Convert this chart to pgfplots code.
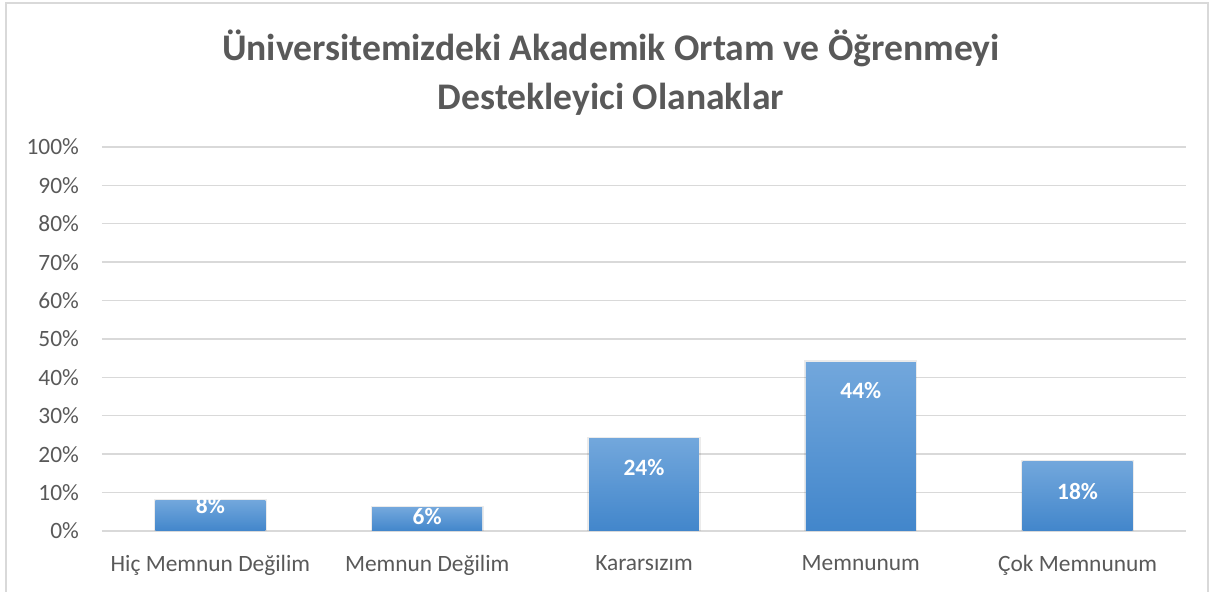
\documentclass[border=0pt]{standalone}
\usepackage{fontspec}
\setmainfont{Carlito}
\usepackage{pgfplots}
\pgfplotsset{compat=1.18}
\definecolor{gridgray}{RGB}{217,217,217}
\definecolor{txtgray}{RGB}{89,89,89}
\definecolor{bartop}{RGB}{114,167,220}
\definecolor{barbot}{RGB}{66,134,203}

\pgfplotsset{
  onebar/.style={
    draw=none, top color=bartop, bottom color=barbot,
    preaction={draw=black, opacity=0.08, line width=1.6pt},
    nodes near coords={\pgfmathprintnumber{\pgfplotspointmeta}\%},
    every node near coord/.append style={anchor=center, yshift=#1,
      font=\bfseries\fontsize{11.7}{14}\selectfont, text=white}
  }
}

\begin{document}
\begin{tikzpicture}
\useasboundingbox (-51pt,-30.5pt) rectangle (557.5pt,265.5pt);
\draw[gridgray, line width=0.8pt] (-48pt,-40pt) -- (-48pt,264pt) -- (553pt,264pt) -- (553pt,-40pt);
\begin{axis}[
  scale only axis, width=542pt, height=192pt,
  xmin=-0.5, xmax=4.5, ymin=0, ymax=100,
  xtick={0,...,4},
  xticklabels={Hiç Memnun Değilim, Memnun Değilim, Kararsızım, Memnunum, Çok Memnunum},
  ytick={0,10,...,100},
  yticklabel={\pgfmathprintnumber{\tick}\%},
  ymajorgrids, grid style={gridgray, line width=0.7pt},
  axis line style={draw=none}, tick style={draw=none},
  ticklabel style={font=\fontsize{11.7}{14}\selectfont, text=txtgray},
  yticklabel style={xshift=-8pt},
  xticklabel style={yshift=-4.5pt},
  /pgf/number format/assume math mode=true,
  ybar, bar width=0.507, bar shift=0pt,
]
\addplot[onebar=-2.5pt] coordinates {(0,8)};
\addplot[onebar=-4.5pt] coordinates {(1,6)};
\addplot[onebar=-14.5pt] coordinates {(2,24)};
\addplot[onebar=-14.5pt] coordinates {(3,44)};
\addplot[onebar=-15pt] coordinates {(4,18)};
\end{axis}
\node[font=\bfseries\fontsize{18.8}{24.5}\selectfont, text=txtgray, align=center]
  at (254.5pt,229.25pt) {Üniversitemizdeki Akademik Ortam ve Öğrenmeyi\\Destekleyici Olanaklar};
\end{tikzpicture}
\end{document}
